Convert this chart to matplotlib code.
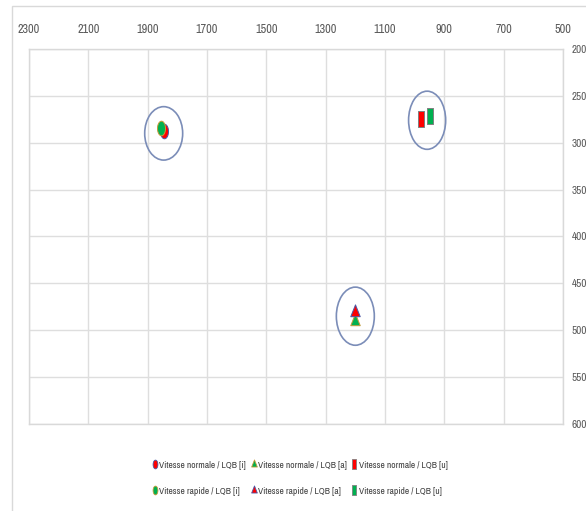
import matplotlib
matplotlib.use("Agg")
import matplotlib.pyplot as plt
from matplotlib.patches import Ellipse, Rectangle
from matplotlib.path import Path
from matplotlib import font_manager
import numpy as np

# ---- data (F2 on x, F1 on y) ----
vowels = ["[i]", "[a]", "[u]"]
f2_normale = [1846, 1202, 979]
f1_normale = [288, 490, 275]
f2_rapide = [1855, 1202, 948]
f1_rapide = [284, 481, 272]

# group ellipses (centre F2, centre F1, width Hz, height Hz)
ell_f2 = [1846, 1200, 958]
ell_f1 = [290, 485, 276]
ell_w = [128, 128, 125]
ell_h = [57, 62, 62]

x_ticks = [2300, 2100, 1900, 1700, 1500, 1300, 1100, 900, 700, 500]
y_ticks = [200, 250, 300, 350, 400, 450, 500, 550, 600]

names = sorted(set(f.name for f in font_manager.fontManager.ttflist))
narrow = [n for n in names if ("Narrow" in n or "Condensed" in n)]
if narrow:
    fam = [narrow[0], "DejaVu Sans"]
    xt_fs, yt_fs, leg_fs = 8.8, 8.0, 6.8
else:
    fam = ["Liberation Sans", "DejaVu Sans"]
    xt_fs, yt_fs, leg_fs = 7, 6.5, 6
plt.rcParams["font.family"] = fam

# tall ellipse marker path
t = np.linspace(0, 2 * np.pi, 40)
ell_marker = Path(np.column_stack([0.55 * np.cos(t), np.sin(t)]), closed=True)
rect_marker = Path([(-0.42, -1), (0.42, -1), (0.42, 1), (-0.42, 1), (-0.42, -1)], closed=True)
tri_marker = Path([(0, 1), (0.62, -0.55), (-0.62, -0.55), (0, 1)], closed=True)

fig = plt.figure(figsize=(5.86, 5.11), dpi=100)
fig.patches.append(Rectangle((11.5 / 586, -0.1), 1.2, (511 - 6) / 511 + 0.1,
                             transform=fig.transFigure, fill=False,
                             edgecolor="#d9d9d9", linewidth=1.0, zorder=0))
ax = fig.add_axes([29 / 586, 87 / 511, 534 / 586, 375 / 511])

ax.set_xlim(2300, 500)
ax.set_ylim(600, 200)
ax.set_xticks(x_ticks)
ax.set_yticks(y_ticks)
ax.xaxis.tick_top()
ax.yaxis.tick_right()
ax.tick_params(axis="both", length=0, labelcolor="#595959")
ax.tick_params(axis="x", pad=10, labelsize=xt_fs)
ax.tick_params(axis="y", pad=6, labelsize=yt_fs)
ax.grid(True, color="#dedede", linewidth=1.0)
ax.set_axisbelow(True)
for s in ax.spines.values():
    s.set_color("#d9d9d9")
    s.set_linewidth(1.0)

red = "#ff0000"
green = "#00b050"
blue_edge = "#4a5aa8"
org_edge = "#c49a3a"
grey_edge = "#808080"

styles_n = [
    dict(marker=ell_marker, ms=10.5, mfc=red, mec=blue_edge),
    dict(marker=tri_marker, ms=11, mfc=green, mec=org_edge),
    dict(marker=rect_marker, ms=11, mfc=red, mec=grey_edge),
]
styles_r = [
    dict(marker=ell_marker, ms=10.5, mfc=green, mec=org_edge),
    dict(marker=tri_marker, ms=11, mfc=red, mec=blue_edge),
    dict(marker=rect_marker, ms=11, mfc=green, mec=grey_edge),
]

handles = []
for i, v in enumerate(vowels):
    h, = ax.plot([f2_normale[i]], [f1_normale[i]], ls="none", mew=0.7,
                 label="Vitesse normale / LQB " + v, zorder=3, **styles_n[i])
    handles.append(h)
hr = []
for i, v in enumerate(vowels):
    h, = ax.plot([f2_rapide[i]], [f1_rapide[i]], ls="none", mew=0.7,
                 label="Vitesse rapide / LQB " + v, zorder=4, **styles_r[i])
    hr.append(h)

for cx, cy, w, hgt in zip(ell_f2, ell_f1, ell_w, ell_h):
    ax.add_patch(Ellipse((cx, cy), w, hgt, fill=False, edgecolor="#7b8db8",
                         linewidth=1.2, zorder=5))

order = [handles[0], hr[0], handles[1], hr[1], handles[2], hr[2]]
leg_handles = []
for h in order:
    leg_handles.append(plt.Line2D([], [], ls="none", marker=h.get_marker(),
                                  ms=h.get_markersize() * 0.6, mfc=h.get_markerfacecolor(),
                                  mec=h.get_markeredgecolor(), mew=0.6))
fig.legend(leg_handles, [h.get_label() for h in order], ncol=3,
           loc="center", bbox_to_anchor=(300 / 586, (511 - 478) / 511),
           frameon=False, fontsize=leg_fs, labelcolor="#404040",
           handlelength=0.6, handletextpad=0.15, columnspacing=0.5,
           labelspacing=1.8, borderpad=0)

fig.savefig("out.png", dpi=100)
